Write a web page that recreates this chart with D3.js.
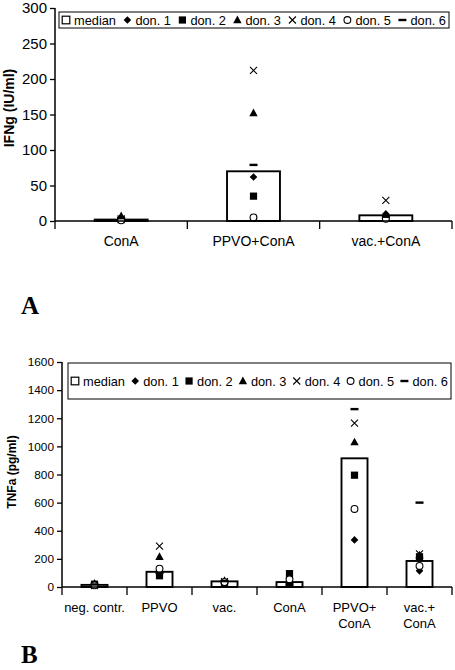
<!DOCTYPE html>
<html><head><meta charset="utf-8">
<script src="https://cdn.jsdelivr.net/npm/d3@7"></script>
<style>body{margin:0;background:#fff}svg{display:block}text{font-family:"Liberation Sans",Arial,sans-serif;fill:#000}</style>
</head><body>
<svg id="c" width="455" height="670"></svg>
<script>
// ---------- data ----------
const seriesNames = ["median","don. 1","don. 2","don. 3","don. 4","don. 5","don. 6"];
const shapes = ["bar","diamond","square","triangle","cross","circle","dash"];

const catsA = [["ConA"],["PPVO+ConA"],["vac.+ConA"]];
const medianA = [2, 70, 8];
const donA = [ // don.1 .. don.6
  [5, 62, 10],
  [2, 35, 4],
  [7, 152, 8],
  [3, 212, 29],
  [1, 5, 3],
  [4, 79, 6]
];
const ticksA = [0,50,100,150,200,250,300];

const catsB = [["neg. contr."],["PPVO"],["vac."],["ConA"],["PPVO+","ConA"],["vac.+","ConA"]];
const medianB = [15, 108, 40, 35, 915, 185];
const donB = [
  [15, 95, 40, 25, 335, 115],
  [20, 80, 30, 95, 795, 215],
  [25, 215, 45, 30, 1030, 225],
  [10, 290, 38, 40, 1165, 235],
  [12, 130, 35, 55, 555, 150],
  [18, 100, 42, 20, 1265, 600]
];
const ticksB = [0,200,400,600,800,1000,1200,1400,1600];

// ---------- drawing ----------
const svg = d3.select("#c");

function marker(g, shape, cx, cy) {
  const s = 3.8;
  if (shape === "diamond") {
    g.append("path").attr("d", `M${cx},${cy-s}L${cx+s},${cy}L${cx},${cy+s}L${cx-s},${cy}Z`).attr("fill","#000");
  } else if (shape === "square") {
    g.append("rect").attr("x",cx-3.6).attr("y",cy-3.6).attr("width",7.2).attr("height",7.2).attr("fill","#000");
  } else if (shape === "triangle") {
    g.append("path").attr("d", `M${cx},${cy-4.5}L${cx+4.2},${cy+3.2}L${cx-4.2},${cy+3.2}Z`).attr("fill","#000");
  } else if (shape === "cross") {
    g.append("path").attr("d", `M${cx-3.5},${cy-3.5}L${cx+3.5},${cy+3.5}M${cx+3.5},${cy-3.5}L${cx-3.5},${cy+3.5}`).attr("stroke","#000").attr("stroke-width",1.1).attr("fill","none");
  } else if (shape === "circle") {
    g.append("circle").attr("cx",cx).attr("cy",cy).attr("r",3.4).attr("fill","#fff").attr("stroke","#000").attr("stroke-width",1.1);
  } else if (shape === "dash") {
    g.append("rect").attr("x",cx-4).attr("y",cy-1.2).attr("width",8).attr("height",2.4).attr("fill","#000");
  } else if (shape === "bar") {
    g.append("rect").attr("x",cx-3.8).attr("y",cy-3.8).attr("width",7.6).attr("height",7.6).attr("fill","#fff").attr("stroke","#000").attr("stroke-width",1.2);
  }
}

function legend(g, L) {
  g.append("rect").attr("x",L.x).attr("y",L.y).attr("width",L.w).attr("height",L.h)
    .attr("fill","#fff").attr("stroke","#000").attr("stroke-width",1);
  const avail = L.w - 6;
  let fs = L.fs, lg, widths;
  for (let iter = 0; iter < 40; iter++) {
    if (lg) lg.remove();
    lg = g.append("g");
    widths = seriesNames.map(nm => {
      const t = lg.append("text").style("font-size", fs + "px").text(nm);
      return t.node().getComputedTextLength();
    });
    const natural = d3.sum(widths) + seriesNames.length * (L.tgap) + (seriesNames.length - 1) * L.gap;
    if (natural <= avail) break;
    fs -= 0.2;
  }
  lg.remove();
  lg = g.append("g");
  const natural = d3.sum(widths) + seriesNames.length * L.tgap + (seriesNames.length - 1) * L.gap;
  const gap = L.gap + (avail - natural) / (seriesNames.length - 1);
  const cy = L.y + L.h/2;
  let cur = L.x + 3;
  seriesNames.forEach((nm, k) => {
    marker(lg, shapes[k], cur + 4, cy);
    lg.append("text").attr("x", cur + L.tgap).attr("y", cy + fs*0.36)
      .style("font-size", fs + "px").text(nm);
    cur = cur + L.tgap + widths[k] + gap;
  });
}

function chart(cfg) {
  const g = svg.append("g");
  const x = d3.scaleBand().domain(d3.range(cfg.cats.length)).range([cfg.x0, cfg.x1]).padding(0);
  const y = d3.scaleLinear().domain([0, cfg.ymax]).range([cfg.y0, cfg.y1]);
  const bw = x.bandwidth() * 0.4;

  g.selectAll("rect.bar").data(cfg.median).join("rect").attr("class","bar")
    .attr("x", (d,i) => x(i) + x.bandwidth()/2 - bw/2)
    .attr("y", d => y(d)).attr("width", bw).attr("height", d => y(0) - y(d))
    .attr("fill","#fff").attr("stroke","#000").attr("stroke-width",1.9);

  cfg.don.forEach((vals, k) => {
    vals.forEach((v, i) => marker(g, shapes[k+1], x(i) + x.bandwidth()/2, y(v)));
  });

  const ya = g.append("g").attr("transform",`translate(${cfg.x0},0)`)
    .call(d3.axisLeft(y).tickValues(cfg.ticks).tickSize(5).tickPadding(3).tickFormat(d3.format("d")));
  ya.select(".domain").attr("stroke","#000").attr("stroke-width",1.5).attr("d",`M0,${cfg.y1}V${cfg.y0}`);
  ya.selectAll(".tick line").attr("stroke","#000").attr("stroke-width",1.3);
  ya.selectAll(".tick text").style("font-size", cfg.tickFs + "px");
  ya.attr("font-family", null).attr("font-size", null);

  const bounds = d3.range(cfg.cats.length + 1).map(i => i < cfg.cats.length ? x(i) : cfg.x1);
  g.append("line").attr("x1",cfg.x0).attr("x2",cfg.x1).attr("y1",y(0)).attr("y2",y(0)).attr("stroke","#000").attr("stroke-width",1.5);
  g.selectAll("line.xt").data(bounds).join("line").attr("class","xt")
    .attr("x1",d=>d).attr("x2",d=>d).attr("y1",y(0)).attr("y2",y(0)+8).attr("stroke","#000").attr("stroke-width",1.3);
  cfg.cats.forEach((lines, i) => {
    lines.forEach((t, j) => {
      g.append("text").attr("x", x(i) + x.bandwidth()/2).attr("y", cfg.labY + j*cfg.labDy)
        .attr("text-anchor","middle").style("font-size", cfg.labFs + "px").text(t);
    });
  });

  g.append("text").attr("transform",`translate(${cfg.titleX},${cfg.titleY}) rotate(-90)`)
    .attr("text-anchor","middle").style("font-size", cfg.titleFs+"px").style("font-weight","bold").text(cfg.title);

  legend(g, cfg.leg);

  svg.append("text").attr("x", cfg.letter[0]).attr("y", cfg.letter[1])
    .style("font-family","'Liberation Serif','Times New Roman',serif").style("font-weight","bold")
    .style("font-size","25px").text(cfg.letterText);
}

chart({cats: catsA, median: medianA, don: donA, ticks: ticksA, ymax: 300,
  x0: 55, x1: 452, y0: 221, y1: 8, tickFs: 15, labFs: 14, labY: 246, labDy: 16,
  title: "IFNg (IU/ml)", titleX: 14, titleY: 108, titleFs: 14,
  leg: {x: 59, y: 12, w: 390, h: 16, fs: 12.8, tgap: 12, gap: 6},
  letter: [21, 314], letterText: "A"});

chart({cats: catsB, median: medianB, don: donB, ticks: ticksB, ymax: 1600,
  x0: 62, x1: 452, y0: 587, y1: 362, tickFs: 11.8, labFs: 13, labY: 612, labDy: 15.5,
  title: "TNFa (pg/ml)", titleX: 16, titleY: 472, titleFs: 12,
  leg: {x: 68, y: 363, w: 383, h: 36, fs: 12.8, tgap: 12, gap: 6},
  letter: [21, 663], letterText: "B"});
</script>
</body></html>
